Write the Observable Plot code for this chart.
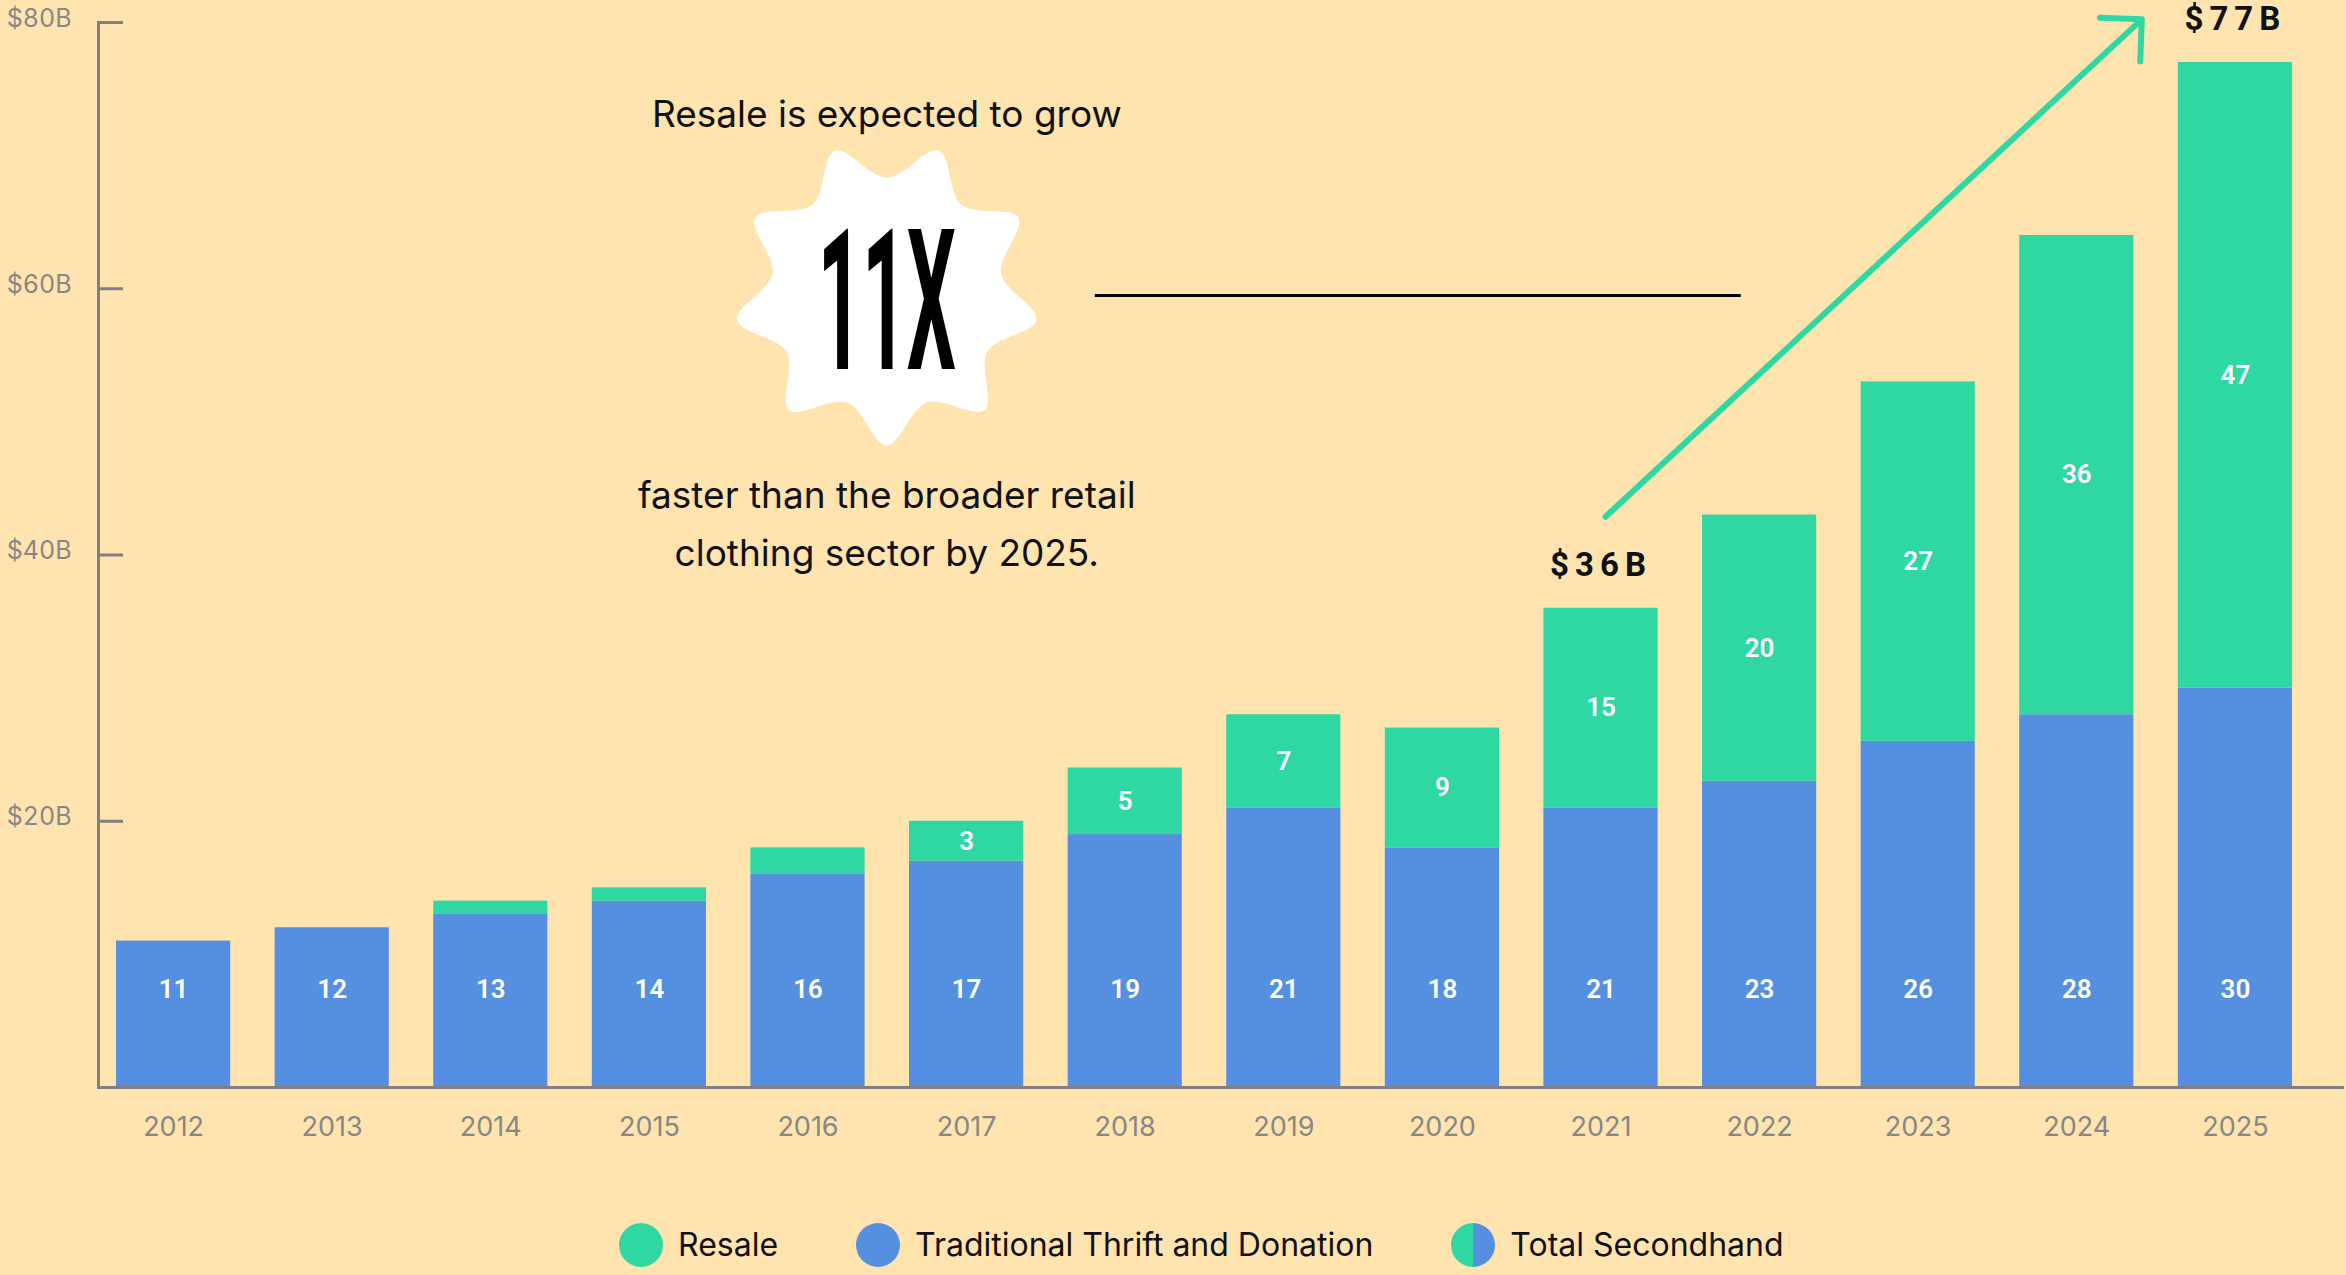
<!DOCTYPE html>
<html><head><meta charset="utf-8">
<script src="https://cdn.jsdelivr.net/npm/d3@7"></script>
<script src="https://cdn.jsdelivr.net/npm/@observablehq/plot@0.6"></script>
<style>
html,body{margin:0;padding:0;background:#ffe4b0;}
body{width:2346px;height:1275px;overflow:hidden;font-family:Inter,"Liberation Sans",sans-serif;}
#legend{display:flex;align-items:center;height:95px;padding-top:35px;padding-left:619px;box-sizing:border-box;}
.item{display:flex;align-items:center;margin-right:78px;font-size:32px;color:#111;line-height:1;}
.sw{width:44px;height:44px;border-radius:50%;margin-right:15px;flex:none;}
</style></head><body>
<div id="chart"></div><div id="legend"></div>
<script>
// ---- data ----
const years = ["2012","2013","2014","2015","2016","2017","2018","2019","2020","2021","2022","2023","2024","2025"];
const thrift = [11,12,13,14,16,17,19,21,18,21,23,26,28,30];
const resale = [0,0,1,1,2,3,5,7,9,15,20,27,36,47];
const yTicks = [20,40,60,80];
const yTickLabels = ["$20B","$40B","$60B","$80B"];
const callouts = [{year:"2021", label:"$36B"},{year:"2025", label:"$77B"}];
const headline = ["Resale is expected to grow","11X","faster than the broader retail","clothing sector by 2025."];
const seriesNames = ["Traditional Thrift and Donation","Resale"];
const legendItems = ["Resale","Traditional Thrift and Donation","Total Secondhand"];

const GREEN = "#2fd7a3", BLUE = "#5590e0", AXIS = "#7e8082", LABEL = "#878787";
const W = 2346, H = 1180;

const rows = years.flatMap((yr,i)=>[
  {year:yr, type:seriesNames[0], value:thrift[i]},
  {year:yr, type:seriesNames[1], value:resale[i]}
]);
const totals = years.map((yr,i)=>({year:yr, thrift:thrift[i], resale:resale[i], total:thrift[i]+resale[i]}));
const totalOf = yr => totals.find(d=>d.year===yr).total;
const thriftLabelY = Math.min(...thrift)*2/3;

function decor(index, scales) {
  const x = scales.x, y = scales.y;
  const bw = typeof x.bandwidth === "function" ? x.bandwidth() : 114.2;
  const g = d3.create("svg:g");
  const cx = (x("2016") + bw + x("2017"))/2;
  const cy = y(59.6);
  // starburst
  const n = 9, R = 152, r = 116, pts = [];
  for (let k=0;k<2*n;k++){ const a = Math.PI/2 + k*Math.PI/n; const rad = k%2 ? r : R; pts.push([cx+rad*Math.cos(a), cy+rad*Math.sin(a)]); }
  g.append("path").attr("d", d3.line().curve(d3.curveCatmullRomClosed.alpha(0.5))(pts)).attr("fill","#fff");
  const line = (t, dy) => g.append("text").attr("x",cx).attr("y",cy+dy).attr("text-anchor","middle").attr("dominant-baseline","central")
    .attr("font-family","Inter, sans-serif").attr("font-size",37).attr("fill","#111").text(t);
  line(headline[0], -180);
  g.append("text").attr("x",cx).attr("y",cy+75).attr("text-anchor","middle")
    .attr("font-family","Roboto, sans-serif").attr("font-weight",700).attr("font-size",197)
    .attr("textLength",138).attr("lengthAdjust","spacingAndGlyphs").attr("fill","#000").text(headline[1]);
  line(headline[2], 201);
  line(headline[3], 259);
  // connector line
  g.append("line").attr("x1",cx+208).attr("x2",cx+854).attr("y1",cy+2).attr("y2",cy+2).attr("stroke","#000").attr("stroke-width",3);
  // growth arrow
  const x1 = x("2021")+bw/2+5, y1 = y(totalOf("2021")) - 91;
  const x2 = x("2025")-36, y2 = y(80.2);
  const ang = Math.atan2(y1-y2, x1-x2), L = 42;
  const p = `M${x1},${y1}L${x2},${y2}M${x2+L*Math.cos(ang-Math.PI/4)},${y2+L*Math.sin(ang-Math.PI/4)}L${x2},${y2}L${x2+L*Math.cos(ang+Math.PI/4)},${y2+L*Math.sin(ang+Math.PI/4)}`;
  g.append("path").attr("d",p).attr("fill","none").attr("stroke",GREEN).attr("stroke-width",6).attr("stroke-linecap","round").attr("stroke-linejoin","round");
  return g.node();
}

const chart = Plot.plot({
  width: W, height: H,
  marginLeft: 98, marginRight: 2, marginTop: 22, marginBottom: H-1087,
  style: {background:"transparent", fontFamily:"Inter, sans-serif", overflow:"visible"},
  x: {domain: years, range: [116, 2292], paddingInner: 0.28, paddingOuter: 0, round: false, label: null},
  y: {domain: [0, 80], label: null},
  color: {domain: seriesNames, range: [BLUE, GREEN]},
  marks: [
    Plot.barY(rows, {x:"year", y:"value", fill:"type"}),
    Plot.ruleY([0], {stroke: AXIS, strokeWidth: 3}),
    Plot.frame({anchor:"left", stroke: AXIS, strokeWidth: 3}),
    Plot.ruleY(yTicks, {stroke: AXIS, strokeWidth: 3, insetRight: W-98-2-25}),
    Plot.axisY({ticks: yTicks, tickSize: 0, tickPadding: 27, tickFormat: d => yTickLabels[yTicks.indexOf(d)], fontSize: 25, color: LABEL, dy: -4, label: null}),
    Plot.axisX({tickSize: 0, tickPadding: 29, fontSize: 27, color: LABEL, label: null}),
    Plot.text(totals, {x:"year", y: () => thriftLabelY, text:"thrift", fill:"#fff", fontSize:26, fontWeight:600, fontFamily:"Roboto, sans-serif"}),
    Plot.text(totals.filter(d=>d.resale>=3), {x:"year", y: d => d.thrift + d.resale/2, text:"resale", fill:"#fff", fontSize:26, fontWeight:600, fontFamily:"Roboto, sans-serif"}),
    Plot.text(callouts, {x:"year", y: d => totalOf(d.year), text:"label", dy:-43, fill:"#111", fontSize:33, fontWeight:700, fontFamily:"Roboto, sans-serif"}),
    decor
  ]
});
document.getElementById("chart").appendChild(chart);
d3.select(chart).selectAll("text").filter(function(){ return callouts.some(c => c.label === this.textContent); })
  .style("letter-spacing","6px");

// legend
const legend = d3.select("#legend");
const swatches = [GREEN, BLUE, `linear-gradient(90deg, ${GREEN} 50%, ${BLUE} 50%)`];
legendItems.forEach((name,i)=>{
  const it = legend.append("div").attr("class","item");
  it.append("div").attr("class","sw").style("background", swatches[i]);
  it.append("span").text(name);
});
</script></body></html>
